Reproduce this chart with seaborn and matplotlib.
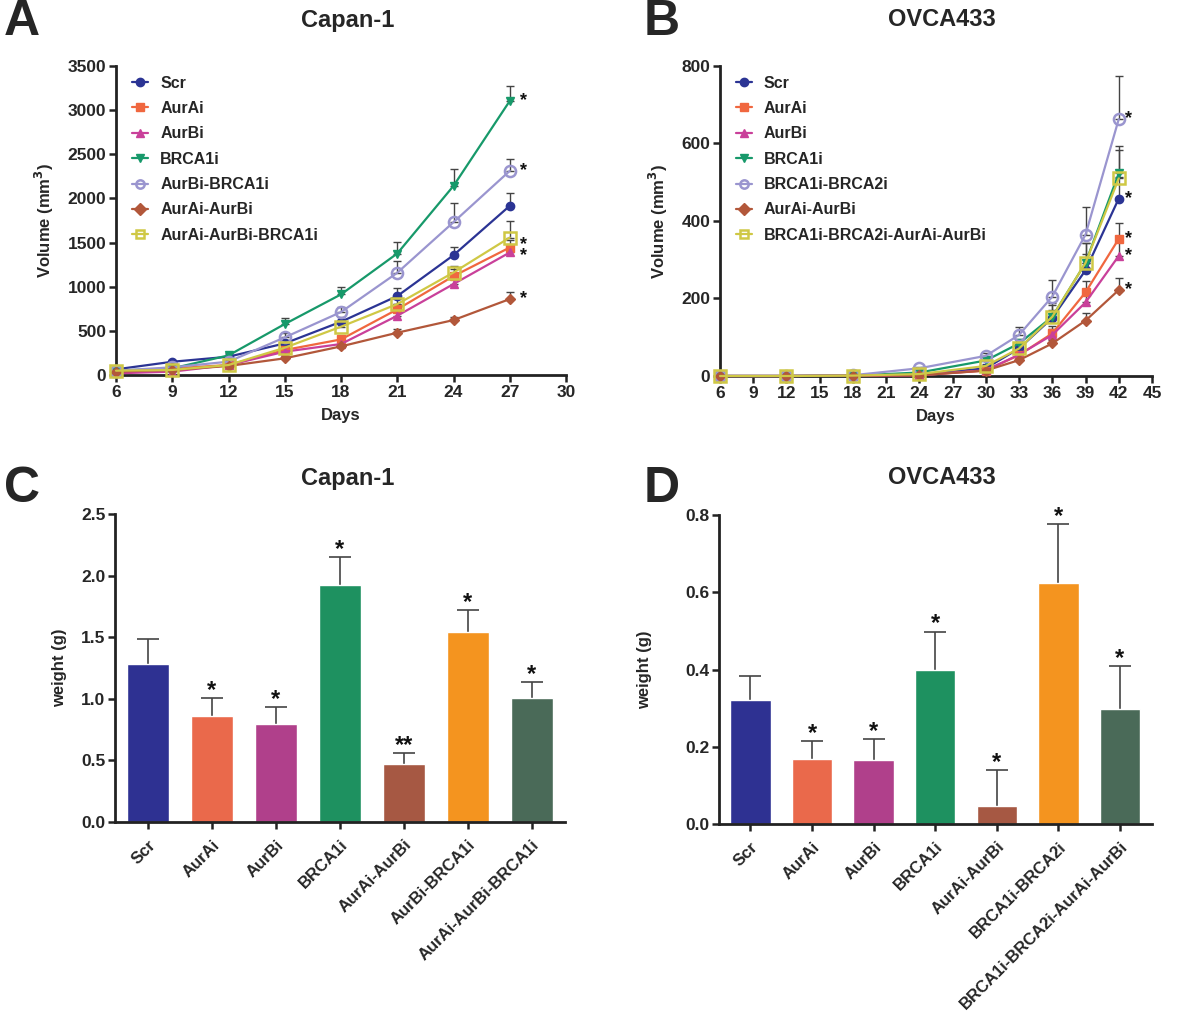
import numpy as np
import pandas as pd
import matplotlib
matplotlib.use("Agg")
import matplotlib.pyplot as plt
import seaborn as sns

sns.set_style("ticks")
plt.rcParams['font.family'] = ['Liberation Sans', 'DejaVu Sans']
plt.rcParams['font.weight'] = 'bold'
plt.rcParams['axes.labelweight'] = 'bold'
plt.rcParams['mathtext.default'] = 'bf'

# ---------------- Data ----------------
days_A = [6, 9, 12, 15, 18, 21, 24, 27]
groups_A = ["Scr", "AurAi", "AurBi", "BRCA1i", "AurBi-BRCA1i", "AurAi-AurBi", "AurAi-AurBi-BRCA1i"]
vol_A_scr = [64, 150, 207, 358, 603, 894, 1357, 1916]
vol_A_aurai = [38, 75, 113, 283, 403, 743, 1120, 1444]
vol_A_aurbi = [19, 38, 113, 264, 351, 671, 1030, 1388]
vol_A_brca1i = [49, 75, 222, 577, 913, 1376, 2142, 3104]
vol_A_aurbi_brca1i = [49, 87, 151, 426, 713, 1158, 1731, 2312]
vol_A_aurai_aurbi = [38, 57, 102, 189, 324, 479, 622, 860]
vol_A_triple = [49, 57, 113, 309, 547, 803, 1161, 1557]
err_A_scr = [15, 20, 25, 35, 50, 86, 95, 150]
err_A_aurai = [10, 15, 20, 30, 40, 60, 80, 90]
err_A_aurbi = [8, 12, 18, 28, 35, 55, 70, 80]
err_A_brca1i = [10, 15, 25, 72, 87, 125, 195, 173]
err_A_aurbi_brca1i = [10, 15, 20, 53, 56, 128, 220, 130]
err_A_aurai_aurbi = [8, 10, 15, 20, 25, 45, 38, 83]
err_A_triple = [10, 12, 20, 30, 40, 60, 70, 185]
# significance stars at the last day (groups of series sharing one star column)
stars_A = [["BRCA1i"], ["AurBi-BRCA1i"], ["AurAi", "AurBi"], ["AurAi-AurBi"]]

days_B = [6, 12, 18, 24, 30, 33, 36, 39, 42]
groups_B = ["Scr", "AurAi", "AurBi", "BRCA1i", "BRCA1i-BRCA2i", "AurAi-AurBi", "BRCA1i-BRCA2i-AurAi-AurBi"]
vol_B_scr = [0, 0, 1, 3, 20, 71, 150, 273, 458]
vol_B_aurai = [0, 0, 1, 2, 14, 54, 110, 216, 354]
vol_B_aurbi = [0, 0, 1, 2, 15, 55, 106, 190, 310]
vol_B_brca1i = [0, 0, 1, 9, 40, 84, 153, 292, 523]
vol_B_brca12 = [0, 0, 2, 20, 52, 106, 205, 365, 663]
vol_B_aurai_aurbi = [0, 0, 1, 2, 14, 41, 84, 143, 222]
vol_B_quad = [0, 0, 1, 5, 26, 71, 153, 292, 510]
err_B_scr = [0, 0, 0.5, 1, 5, 10, 20, 42, 55]
err_B_aurai = [0, 0, 0, 1, 4, 8, 18, 29, 42]
err_B_aurbi = [0, 0, 0, 1, 4, 8, 15, 25, 35]
err_B_brca1i = [0, 0, 0, 2, 8, 12, 35, 50, 70]
err_B_brca12 = [0, 0, 0.5, 3, 8, 21, 43, 70, 111]
err_B_aurai_aurbi = [0, 0, 0, 1, 3, 5, 8, 19, 30]
err_B_quad = [0, 0, 0, 1, 5, 10, 30, 50, 73]
stars_B = [["BRCA1i-BRCA2i"], ["Scr"], ["AurAi"], ["AurBi"], ["AurAi-AurBi"]]

cats_C = ["Scr", "AurAi", "AurBi", "BRCA1i", "AurAi-AurBi", "AurBi-BRCA1i", "AurAi-AurBi-BRCA1i"]
weight_C = [1.282, 0.860, 0.795, 1.921, 0.471, 1.545, 1.004]
err_C = [0.201, 0.146, 0.136, 0.230, 0.086, 0.176, 0.130]
sig_C = ["", "*", "*", "*", "**", "*", "*"]

cats_D = ["Scr", "AurAi", "AurBi", "BRCA1i", "AurAi-AurBi", "BRCA1i-BRCA2i", "BRCA1i-BRCA2i-AurAi-AurBi"]
weight_D = [0.322, 0.169, 0.165, 0.398, 0.047, 0.624, 0.297]
err_D = [0.061, 0.046, 0.054, 0.100, 0.093, 0.153, 0.112]
sig_D = ["", "*", "*", "*", "*", "*", "*"]

# ---------------- Styles ----------------
line_colors = {"Scr": "#2b3494", "AurAi": "#f0673f", "AurBi": "#c9409a", "BRCA1i": "#17996a",
               "combo2": "#9a95cf", "AurAi-AurBi": "#b2573a", "combo3": "#cfc845"}
bar_colors = ["#2e3192", "#ea694b", "#b0408b", "#1e9160", "#a65843", "#f4941f", "#4a6a58"]

A_series = [
    ("Scr", vol_A_scr, err_A_scr, line_colors["Scr"], "o", True, 6),
    ("AurAi", vol_A_aurai, err_A_aurai, line_colors["AurAi"], "s", True, 6),
    ("AurBi", vol_A_aurbi, err_A_aurbi, line_colors["AurBi"], "^", True, 6),
    ("BRCA1i", vol_A_brca1i, err_A_brca1i, line_colors["BRCA1i"], "v", True, 6),
    ("AurBi-BRCA1i", vol_A_aurbi_brca1i, err_A_aurbi_brca1i, line_colors["combo2"], "o", False, 8),
    ("AurAi-AurBi", vol_A_aurai_aurbi, err_A_aurai_aurbi, line_colors["AurAi-AurBi"], "D", True, 5),
    ("AurAi-AurBi-BRCA1i", vol_A_triple, err_A_triple, line_colors["combo3"], "s", False, 8),
]
B_series = [
    ("Scr", vol_B_scr, err_B_scr, line_colors["Scr"], "o", True, 6),
    ("AurAi", vol_B_aurai, err_B_aurai, line_colors["AurAi"], "s", True, 6),
    ("AurBi", vol_B_aurbi, err_B_aurbi, line_colors["AurBi"], "^", True, 6),
    ("BRCA1i", vol_B_brca1i, err_B_brca1i, line_colors["BRCA1i"], "v", True, 6),
    ("BRCA1i-BRCA2i", vol_B_brca12, err_B_brca12, line_colors["combo2"], "o", False, 8),
    ("AurAi-AurBi", vol_B_aurai_aurbi, err_B_aurai_aurbi, line_colors["AurAi-AurBi"], "D", True, 5),
    ("BRCA1i-BRCA2i-AurAi-AurBi", vol_B_quad, err_B_quad, line_colors["combo3"], "s", False, 8),
]

fig = plt.figure(figsize=(12, 10.18), dpi=100)
W, H = 1200, 1018
TICK_FS = 12.5
LABEL_FS = 12


def add_ax(left, top, right, bottom):
    return fig.add_axes([left / W, 1 - bottom / H, (right - left) / W, (bottom - top) / H])


def style_ax(ax):
    for s in ["top", "right"]:
        ax.spines[s].set_visible(False)
    for s in ["left", "bottom"]:
        ax.spines[s].set_linewidth(2.0)
        ax.spines[s].set_color("#222222")
    ax.tick_params(axis="both", width=1.8, length=5, color="#222222", labelsize=TICK_FS, pad=2)
    for lab in ax.get_xticklabels() + ax.get_yticklabels():
        lab.set_fontweight("bold")


def line_panel(ax, days, series, stars, star_dx, xticks, yticks):
    for name, vals, errs, col, mk, filled, ms in series:
        df = pd.DataFrame({"day": days, "vol": vals})
        ax.errorbar(days, vals, yerr=[np.zeros(len(errs)), errs], fmt="none",
                    ecolor="#444444", elinewidth=1.0, capsize=3, capthick=1.0, zorder=2, clip_on=False)
        sns.lineplot(data=df, x="day", y="vol", ax=ax, color=col, marker=mk, markersize=ms,
                     markerfacecolor=(col if filled else "none"), markeredgecolor=col,
                     markeredgewidth=(1.0 if filled else 1.8), linewidth=1.6, label=name,
                     zorder=3, clip_on=False)
    lookup = {s[0]: s[1] for s in series}
    for grp in stars:
        yv = np.mean([lookup[n][-1] for n in grp])
        ax.text(days[-1] + star_dx, yv, "\n".join("*" * 1 for _ in grp), fontsize=13,
                fontweight="bold", ha="left", va="center", color="#111111", linespacing=0.55)
    ax.set_xlim(xticks[0], xticks[-1])
    ax.set_ylim(yticks[0], yticks[-1])
    ax.set_xticks(xticks)
    ax.set_yticks(yticks)
    ax.set_xlabel("Days", fontsize=LABEL_FS, fontweight="bold", labelpad=6)
    ax.set_ylabel("Volume (mm$^3$)", fontsize=LABEL_FS, fontweight="bold", labelpad=8)
    style_ax(ax)
    leg = ax.legend(loc="upper left", bbox_to_anchor=(0.015, 1.0), frameon=False,
                    handlelength=1.0, handletextpad=0.75, labelspacing=0.65,
                    prop={"weight": "bold", "size": 11.5}, borderaxespad=0.2)
    for h in leg.legend_handles:
        h.set_markersize(6)


# Panel A
axA = add_ax(116, 66, 566, 375)
line_panel(axA, days_A, A_series, stars_A, 0.55, list(range(6, 31, 3)), list(range(0, 3501, 500)))
# Panel B
axB = add_ax(720, 66, 1152, 376)
line_panel(axB, days_B, B_series, stars_B, 0.6, list(range(6, 46, 3)), list(range(0, 801, 200)))


def bar_panel(ax, cats, vals, errs, sig, ylim, yticks, fmt, star_pad, ylab_pad):
    df = pd.DataFrame({"cat": cats, "w": vals})
    sns.barplot(data=df, x="cat", y="w", hue="cat", palette=bar_colors, ax=ax,
                errorbar=None, width=0.655, saturation=1, legend=False, zorder=2)
    pos = np.arange(len(cats))
    # symmetric bars drawn behind the bars: only the upper half remains visible
    ax.errorbar(pos, vals, yerr=errs, fmt="none", ecolor="#444444",
                elinewidth=1.2, capsize=8, capthick=1.2, zorder=1)
    for p, v, e, s in zip(pos, vals, errs, sig):
        if s:
            ax.text(p, v + e + star_pad, s, ha="center", va="bottom", fontsize=17,
                    fontweight="bold", color="#111111")
    ax.set_xlim(-0.51, len(cats) - 0.48)
    ax.set_ylim(*ylim)
    ax.set_yticks(yticks)
    ax.set_yticklabels([fmt.format(t) for t in yticks])
    ax.set_xlabel("")
    ax.set_ylabel("weight (g)", fontsize=LABEL_FS, fontweight="bold", labelpad=ylab_pad)
    style_ax(ax)
    ax.set_xticks(pos)
    ax.set_xticklabels(cats, rotation=45, ha="right", rotation_mode="anchor",
                       fontsize=12, fontweight="bold")
    ax.tick_params(axis="x", pad=6)


axC = add_ax(115, 514, 565, 822)
bar_panel(axC, cats_C, weight_C, err_C, sig_C, (0, 2.5), [0.0, 0.5, 1.0, 1.5, 2.0, 2.5], "{:.1f}", -0.03, 10)
axD = add_ax(719, 515, 1152, 824)
bar_panel(axD, cats_D, weight_D, err_D, sig_D, (0, 0.8), [0.0, 0.2, 0.4, 0.6, 0.8], "{:.1f}", -0.01, 24)

# Titles and panel letters
fig.text(348 / W, 1 - 20 / H, "Capan-1", ha="center", va="center", fontsize=17, fontweight="bold")
fig.text(942 / W, 1 - 20 / H, "OVCA433", ha="center", va="center", fontsize=17, fontweight="bold")
fig.text(348 / W, 1 - 478 / H, "Capan-1", ha="center", va="center", fontsize=17, fontweight="bold")
fig.text(942 / W, 1 - 478 / H, "OVCA433", ha="center", va="center", fontsize=17, fontweight="bold")
for lx, ly, letter in [(22, 22, "A"), (662, 22, "B"), (22, 489, "C"), (662, 489, "D")]:
    fig.text(lx / W, 1 - ly / H, letter, ha="center", va="center", fontsize=36, fontweight="bold")

fig.savefig("out.png", dpi=100, facecolor="white")
